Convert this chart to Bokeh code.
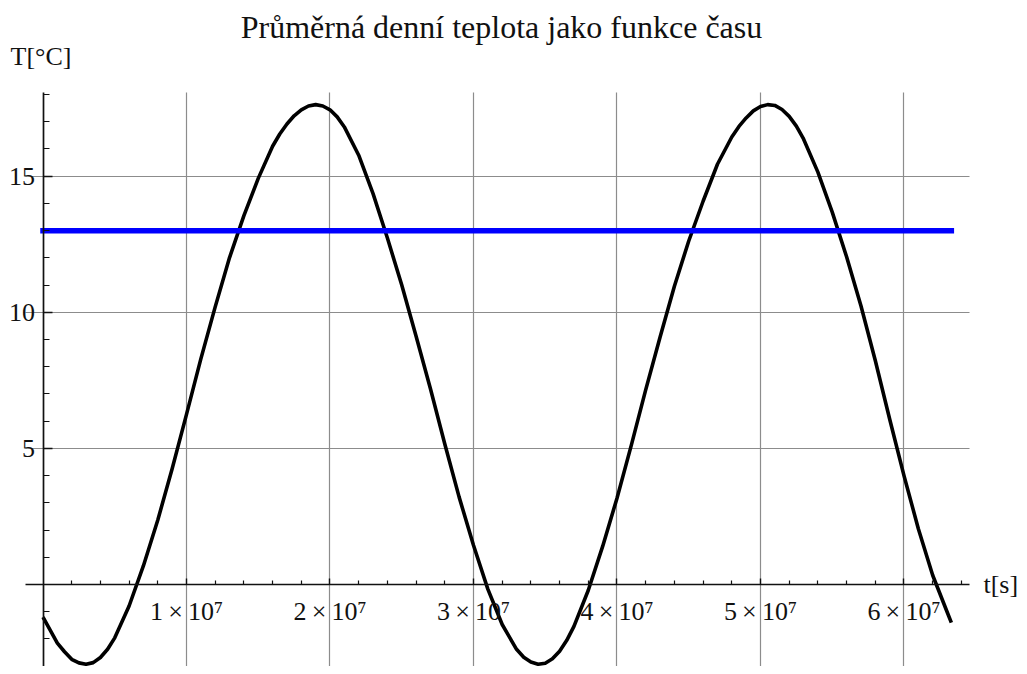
from bokeh.plotting import figure
from bokeh.models import FixedTicker, Range1d, Label
from bokeh.embed import file_html
from bokeh.resources import INLINE

# time in units of 1e7 s
t_1e7 = [0.0, 0.05, 0.1, 0.15, 0.2, 0.25, 0.3, 0.35, 0.4, 0.45, 0.5, 0.6, 0.7, 0.8, 0.9,
         1.0, 1.1, 1.2, 1.3, 1.4, 1.5, 1.6, 1.65, 1.7, 1.75, 1.8, 1.85, 1.9, 1.95,
         2.0, 2.05, 2.1, 2.2, 2.3, 2.4, 2.5, 2.6, 2.7, 2.8, 2.9,
         3.0, 3.1, 3.2, 3.3, 3.35, 3.4, 3.45, 3.5, 3.55, 3.6, 3.65, 3.7, 3.8, 3.9,
         4.0, 4.1, 4.2, 4.3, 4.4, 4.5, 4.6, 4.7, 4.8, 4.85, 4.9, 4.95,
         5.0, 5.05, 5.1, 5.15, 5.2, 5.25, 5.3, 5.4, 5.5, 5.6, 5.7, 5.8, 5.9,
         6.0, 6.1, 6.2, 6.3, 6.33]
# average daily temperature [°C]
temp = [-1.20, -1.68, -2.15, -2.47, -2.75, -2.88, -2.93, -2.87, -2.68, -2.38, -1.96, -0.79, 0.69, 2.37, 4.25,
        6.25, 8.29, 10.20, 12.01, 13.55, 14.92, 16.10, 16.55, 16.92, 17.22, 17.44, 17.58, 17.63, 17.58,
        17.44, 17.18, 16.81, 15.77, 14.36, 12.73, 11.00, 9.12, 7.19, 5.16, 3.21,
        1.44, -0.17, -1.47, -2.38, -2.67, -2.85, -2.93, -2.89, -2.73, -2.45, -2.05, -1.54, -0.21, 1.40,
        3.17, 5.12, 7.15, 9.08, 10.96, 12.62, 14.08, 15.44, 16.44, 16.83, 17.14, 17.40,
        17.56, 17.63, 17.60, 17.45, 17.20, 16.84, 16.37, 15.15, 13.68, 12.04, 10.24, 8.23, 6.08,
        4.00, 2.05, 0.34, -1.00, -1.40]
# constant line
const_t_1e7 = [0.0, 6.33]
const_temp = [13.0, 13.0]

x_major_1e7 = [1, 2, 3, 4, 5, 6]
x_labels = ["1\u2009×\u200910⁷", "2\u2009×\u200910⁷", "3\u2009×\u200910⁷",
            "4\u2009×\u200910⁷", "5\u2009×\u200910⁷", "6\u2009×\u200910⁷"]
x_minor_1e7 = [0.2, 0.4, 0.6, 0.8, 1.2, 1.4, 1.6, 1.8, 2.2, 2.4, 2.6, 2.8,
               3.2, 3.4, 3.6, 3.8, 4.2, 4.4, 4.6, 4.8, 5.2, 5.4, 5.6, 5.8, 6.2, 6.4]
y_major = [5, 10, 15]
y_minor = [-3, -2, -1, 1, 2, 3, 4, 6, 7, 8, 9, 11, 12, 13, 14, 16, 17, 18]

title_text = "Průměrná denní teplota jako funkce času"
ylabel_text = "T[°C]"
xlabel_text = "t[s]"

S = 10_000_000
t_s = [v * S for v in t_1e7]
const_t = [v * S for v in const_t_1e7]
x_major = [int(v * S) for v in x_major_1e7]
x_minor = [v * S for v in x_minor_1e7]

X_AXIS_BOUNDS = (-0.123 * S, 6.455 * S)
Y_AXIS_BOUNDS = (-3.4, 18.06)

FONT = "Liberation Serif"
INK = "#111111"

p = figure(width=1019, height=666, output_backend="svg", toolbar_location=None,
           x_range=Range1d(-0.2962 * S, 6.805 * S), y_range=Range1d(-3.0125, 21.455),
           min_border_left=0, min_border_right=0, min_border_top=0,
           min_border_bottom=0)
p.title.visible = False
p.outline_line_color = None
p.background_fill_color = "white"
p.border_fill_color = "white"

# grid
p.xgrid.ticker = FixedTicker(ticks=x_major)
p.ygrid.ticker = FixedTicker(ticks=y_major)
GRID_COLOR = "#8c8c8c"
try:
    p.xgrid.cross_bounds = Y_AXIS_BOUNDS
    p.ygrid.cross_bounds = X_AXIS_BOUNDS
    for g in (p.xgrid, p.ygrid):
        g.grid_line_color = GRID_COLOR
        g.grid_line_width = 1.2
except AttributeError:
    p.xgrid.grid_line_color = None
    p.ygrid.grid_line_color = None
    p.segment(x0=x_major, y0=[Y_AXIS_BOUNDS[0]] * len(x_major),
              x1=x_major, y1=[Y_AXIS_BOUNDS[1]] * len(x_major),
              line_color=GRID_COLOR, line_width=1.2)
    p.segment(x0=[X_AXIS_BOUNDS[0]] * len(y_major), y0=y_major,
              x1=[X_AXIS_BOUNDS[1]] * len(y_major), y1=y_major,
              line_color=GRID_COLOR, line_width=1.2)

# axes crossing at origin
for ax in (p.xaxis, p.yaxis):
    ax.fixed_location = 0
    ax.axis_line_color = INK
    ax.axis_line_width = 1.7
    ax.major_tick_line_color = INK
    ax.minor_tick_line_color = INK
    ax.major_tick_line_width = 1.4
    ax.minor_tick_line_width = 1.2
    ax.major_tick_out = 0
    ax.minor_tick_out = 0
    ax.major_label_text_font = FONT
    ax.major_label_text_font_size = "26px"
    ax.major_label_text_color = INK

p.xaxis.bounds = X_AXIS_BOUNDS
p.xaxis.ticker = FixedTicker(ticks=x_major, minor_ticks=x_minor)
p.xaxis.major_label_overrides = {k: lab for k, lab in zip(x_major, x_labels)}
p.xaxis.major_tick_in = 6
p.xaxis.minor_tick_in = 4
p.xaxis.major_label_standoff = 12

p.yaxis.bounds = Y_AXIS_BOUNDS
p.yaxis.ticker = FixedTicker(ticks=y_major, minor_ticks=y_minor)
p.yaxis.major_tick_in = 9
p.yaxis.minor_tick_in = 6
p.yaxis.major_label_standoff = 8

# data
p.line(t_s, temp, line_color="black", line_width=3.6, line_join="round")
p.line(const_t, const_temp, line_color="#0000ff", line_width=5.5, line_cap="square")

# texts
p.add_layout(Label(x=3.195 * S, y=20.48, text=title_text, text_font=FONT,
                   text_font_size="32px", text_align="center",
                   text_baseline="alphabetic", text_color=INK))
p.add_layout(Label(x=-0.2265 * S, y=19.38, text=ylabel_text, text_font=FONT,
                   text_font_size="26px", text_align="left",
                   text_baseline="alphabetic", text_color=INK))
p.add_layout(Label(x=6.554 * S, y=0, text=xlabel_text, text_font=FONT,
                   text_font_size="26px", text_align="left",
                   text_baseline="middle", text_color=INK))

open("out.html", "w").write(file_html(p, INLINE))
